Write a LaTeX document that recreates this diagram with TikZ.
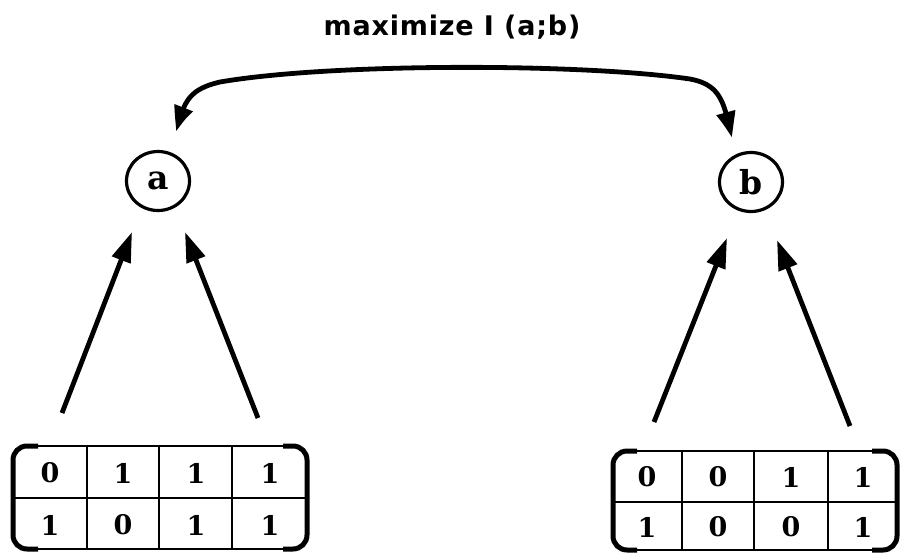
\documentclass[tikz,border=0pt]{standalone}
\usepackage{fontspec}
\usetikzlibrary{arrows.meta,bending,shapes.geometric}
\newfontfamily\titlefont[LetterSpace=3]{DejaVu Sans}
\newfontfamily\digitfont{DejaVu Serif}

\tikzset{
  var/.style={draw, ellipse, line width=3.2pt, minimum width=63pt, minimum height=59pt, inner sep=0pt,
    font=\digitfont\bfseries\fontsize{33}{33}\selectfont},
  cell/.style={inner sep=0pt, font=\digitfont\bfseries\fontsize{27}{27}\selectfont},
  feed/.style={line width=4.8pt, -{Triangle[length=30pt,width=19pt]}},
  link/.style={line width=4.8pt, {Triangle[length=28pt,width=18pt,bend]}-{Triangle[length=28pt,width=18pt,bend]}},
  rim/.style={line width=1.8pt, rounded corners=14pt},
  bracket/.style={line width=5pt, rounded corners=14pt},
  grid/.style={line width=1.6pt}
}

\begin{document}
\begin{tikzpicture}[x=1pt,y=-1pt]
\useasboundingbox (0,0) rectangle (901,552);

% title
\node[anchor=base, inner sep=0pt, font=\titlefont\bfseries\fontsize{27}{27}\selectfont]
  (title) at (452,35) {maximize I (a;b)};

% the two variables
\node[var] (a) at (158,181) {a};
\node[var] (b) at (751,182) {b};

% left table
\draw[rim] (13,446) rectangle (308,549);
\draw[bracket] (38,446) -- (13,446) -- (13,549) -- (38,549);
\draw[bracket] (283,446) -- (307,446) -- (307,549) -- (283,549);
\draw[grid] (13,498) -- (308,498);
\foreach \x in {87,159,232} \draw[grid] (\x,446) -- (\x,549);
\node[cell] (l11) at (50,473) {0};
\node[cell] (l12) at (123,473) {1};
\node[cell] (l13) at (196,473) {1};
\node[cell] (l14) at (270,473) {1};
\node[cell] (l21) at (50,525) {1};
\node[cell] (l22) at (123,525) {0};
\node[cell] (l23) at (196,525) {1};
\node[cell] (l24) at (270,525) {1};

% right table
\draw[rim] (612,451) rectangle (897,550);
\draw[bracket] (637,451) -- (613,451) -- (613,550) -- (637,550);
\draw[bracket] (872,451) -- (897,451) -- (897,550) -- (872,550);
\draw[grid] (612,502) -- (897,502);
\foreach \x in {682,754,828} \draw[grid] (\x,451) -- (\x,550);
\node[cell] (r11) at (647,477) {0};
\node[cell] (r12) at (718,477) {0};
\node[cell] (r13) at (791,477) {1};
\node[cell] (r14) at (863,477) {1};
\node[cell] (r21) at (647,527) {1};
\node[cell] (r22) at (718,527) {0};
\node[cell] (r23) at (791,527) {0};
\node[cell] (r24) at (863,527) {1};

% arrow ends
\coordinate (la1) at (62,413);
\coordinate (la2) at (258,418);
\coordinate (ta1) at (132,232);
\coordinate (ta2) at (185,232);
\coordinate (lb1) at (654,422);
\coordinate (lb2) at (850,426);
\coordinate (tb1) at (727,238);
\coordinate (tb2) at (777,240);
\coordinate (ca) at (176,132);
\coordinate (cb) at (732,138);

% feeds from the tables to the variables
\draw[feed] (la1) -- (ta1);
\draw[feed] (la2) -- (ta2);
\draw[feed] (lb1) -- (tb1);
\draw[feed] (lb2) -- (tb2);

% objective linking a and b
\draw[link] (ca) .. controls (184,104) and (186,90) .. (220,82)
  .. controls (330,63) and (580,63) .. (690,79)
  .. controls (722,85) and (724,104) .. (cb);
\end{tikzpicture}
\end{document}
